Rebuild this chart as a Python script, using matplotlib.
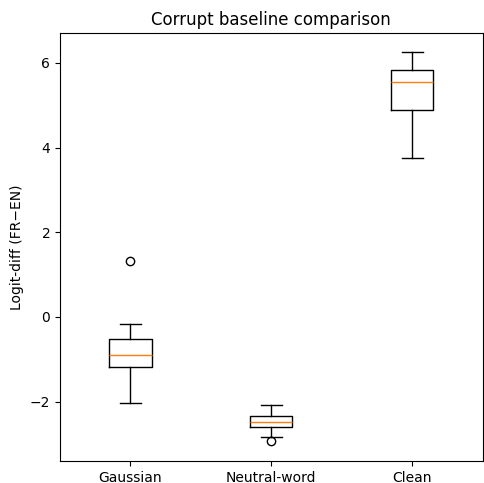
import matplotlib
matplotlib.use("Agg")
from matplotlib import pyplot as plt

# box stats
labels = ["Gaussian", "Neutral-word", "Clean"]
medians = [-0.90, -2.48, 5.54]
q1s = [-1.18, -2.59, 4.88]
q3s = [-0.52, -2.35, 5.83]
whislo = [-2.03, -2.83, 3.76]
whishi = [-0.16, -2.07, 6.25]
fliers = [[1.32], [-2.94], []]


def main():
    stats = []
    for i in range(len(labels)):
        stats.append({
            "label": labels[i],
            "med": medians[i],
            "q1": q1s[i],
            "q3": q3s[i],
            "whislo": whislo[i],
            "whishi": whishi[i],
            "fliers": fliers[i],
        })

    fig, ax = plt.subplots(figsize=(4.84, 4.83), dpi=100)
    ax.bxp(stats)
    ax.set_title("Corrupt baseline comparison")
    ax.set_ylabel("Logit-diff (FR\u2212EN)")
    fig.subplots_adjust(left=0.124, right=0.997, bottom=0.046, top=0.932)
    fig.savefig("out.png", dpi=100)


if __name__ == "__main__":
    main()
